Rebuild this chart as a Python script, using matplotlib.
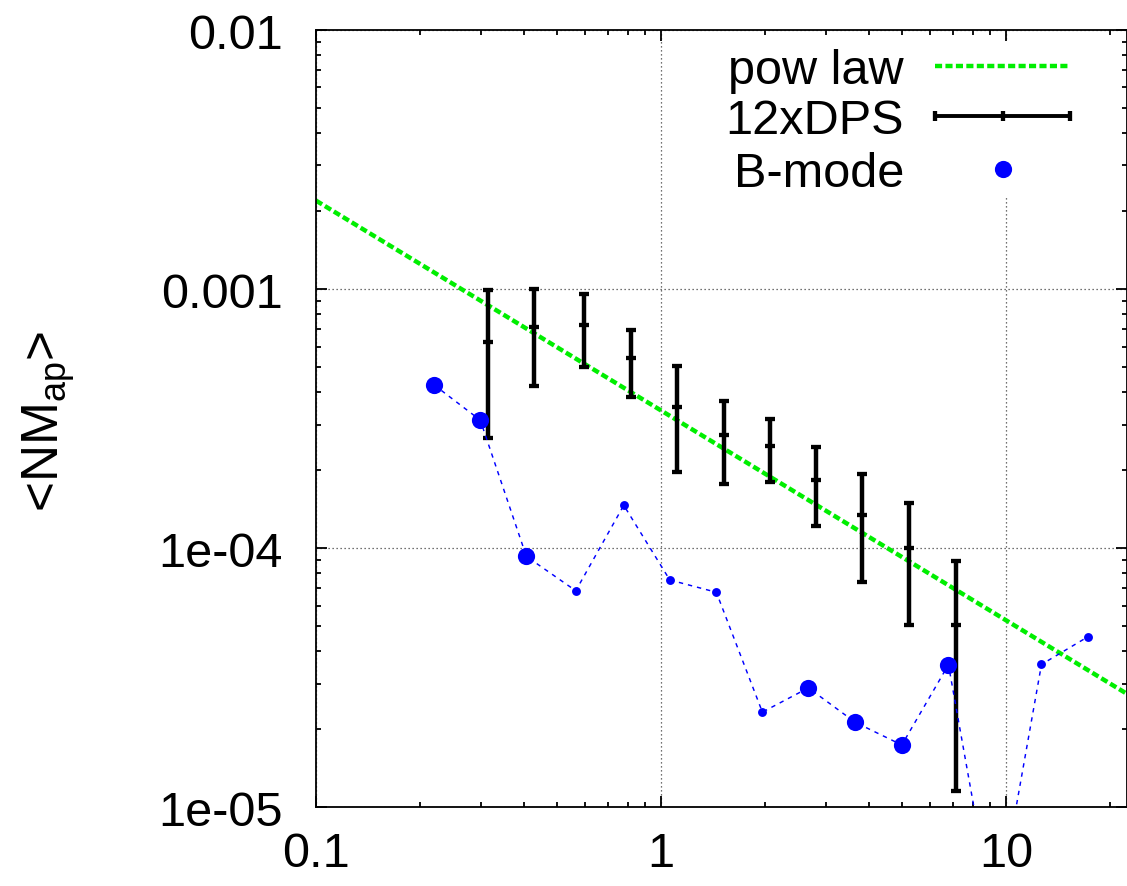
import numpy as np
import matplotlib
matplotlib.use("Agg")
import matplotlib.pyplot as plt
from matplotlib.lines import Line2D
from matplotlib.patches import Rectangle
from matplotlib.ticker import LogLocator, NullFormatter

plt.rcParams['font.family'] = ['Liberation Sans', 'DejaVu Sans']
plt.rcParams['mathtext.fontset'] = 'custom'
plt.rcParams['mathtext.rm'] = 'Liberation Sans'
plt.rcParams['mathtext.it'] = 'Liberation Sans'

# power-law fit: y = amp * x**index
pow_amp = 3.40e-4
pow_index = -0.81

# 12xDPS points with asymmetric errors
dps_x = [0.316, 0.427, 0.596, 0.818, 1.115, 1.523, 2.07, 2.81, 3.83, 5.23, 7.14]
dps_mid = [6.26e-4, 7.13e-4, 7.30e-4, 5.40e-4, 3.52e-4, 2.74e-4, 2.47e-4, 1.84e-4, 1.34e-4, 1.00e-4, 5.07e-5]
dps_lo = [2.66e-4, 4.24e-4, 5.02e-4, 3.82e-4, 1.97e-4, 1.77e-4, 1.80e-4, 1.22e-4, 7.38e-5, 5.07e-5, 1.16e-5]
dps_hi = [9.92e-4, 1.00e-3, 9.57e-4, 6.97e-4, 5.06e-4, 3.71e-4, 3.15e-4, 2.45e-4, 1.94e-4, 1.50e-4, 8.95e-5]

# B-mode (negative values drawn as |value| with small dots)
bmode_x = [0.2198, 0.2993, 0.4070, 0.5660, 0.7797, 1.060, 1.446, 1.966, 2.673, 3.650, 4.985, 6.805, 9.29, 12.66, 17.25]
bmode = [4.27e-4, 3.12e-4, 9.30e-5, -6.85e-5, -1.464e-4, -7.54e-5, -6.76e-5, -2.33e-5,
         2.89e-5, 2.13e-5, 1.74e-5, 3.55e-5, 3.5e-6, -3.56e-5, -4.55e-5]

x_ticks = [0.1, 1, 10]
x_ticklabels = ["0.1", "1", "10"]
y_ticks = [1e-5, 1e-4, 1e-3, 1e-2]
y_ticklabels = ["1e-05", "1e-04", "0.001", "0.01"]

FS = 35
green = '#00ee00'

fig = plt.figure(figsize=(11.27, 8.87), dpi=100)
ax = fig.add_axes([316/1127, 1 - 808.3/887, 811/1127, 777.3/887])
ax.set_xscale('log')
ax.set_yscale('log')
xlim = (0.1, 22.4)
ax.set_xlim(*xlim)
ax.set_ylim(1e-5, 1e-2)

# pow law
xl = np.array(xlim)
ax.plot(xl, pow_amp * xl ** pow_index, color=green, lw=3.2, dashes=(1.6, 0.75),
        solid_capstyle='butt', dash_capstyle='butt', zorder=2)

# 12xDPS
mid = np.array(dps_mid)
yerr = [mid - np.array(dps_lo), np.array(dps_hi) - mid]
ax.errorbar(dps_x, mid, yerr=yerr, fmt='_', color='black', ms=7.8, mew=3.1,
            elinewidth=3.2, capsize=3.9, capthick=3.1, zorder=3)

# B-mode
bm = np.array(bmode)
bx = np.array(bmode_x)
ax.plot(bx, np.abs(bm), color='blue', lw=1.05, dashes=(3, 3.4), zorder=4)
pos = bm > 0
ax.plot(bx[pos], bm[pos], 'o', color='blue', ms=12.4, mec='none', zorder=5)
ax.plot(bx[~pos], -bm[~pos], 'o', color='blue', ms=6.4, mec='none', zorder=5)

# axes styling
ax.set_axisbelow(True)
ax.grid(True, which='major', color='#444444', lw=0.9, linestyle=(0, (1, 2.2)))
ax.set_xticks(x_ticks)
ax.set_xticklabels(x_ticklabels)
ax.set_yticks(y_ticks)
ax.set_yticklabels(y_ticklabels)
ax.xaxis.set_minor_locator(LogLocator(base=10, subs=np.arange(2, 10)))
ax.yaxis.set_minor_locator(LogLocator(base=10, subs=np.arange(2, 10)))
ax.xaxis.set_minor_formatter(NullFormatter())
ax.yaxis.set_minor_formatter(NullFormatter())
ax.tick_params(which='both', direction='in', top=True, right=True, width=1.3, labelsize=FS)
ax.tick_params(which='major', length=8)
ax.tick_params(which='minor', length=3.5)
ax.tick_params(axis='x', which='major', pad=17)
ax.tick_params(axis='y', which='major', pad=24)
for s in ax.spines.values():
    s.set_linewidth(1.3)

fig.text(49/1127, 1 - 421/887, r'<NM$_{\rm ap}$>', rotation=90, ha='center', va='center', fontsize=37)

# opaque key
ax.add_patch(Rectangle((0.47, 0.7864), 0.49, 0.199, transform=ax.transAxes,
                       facecolor='white', edgecolor='none', zorder=1))
tx = (904 - 316) / 811
sx0, sx1 = (935 - 316) / 811, (1070 - 316) / 811
sxm = (sx0 + sx1) / 2
rows = [1 - (67 - 31) / 777.3, 1 - (117 - 31) / 777.3, 1 - (170 - 31) / 777.3]
base_off = 17 / 777.3
for lab, ry in zip(["pow law", "12xDPS", "B-mode"], rows):
    ax.text(tx, ry - base_off, lab, transform=ax.transAxes, ha='right', va='baseline',
            fontsize=FS, zorder=6)
ax.add_line(Line2D([sx0, sx1], [rows[0]] * 2, transform=ax.transAxes, color=green, lw=3.2,
                   dashes=(1.6, 0.75), dash_capstyle='butt', zorder=6))
ax.add_line(Line2D([sx0, sx1], [rows[1]] * 2, transform=ax.transAxes, color='black', lw=2.8, zorder=6))
ax.add_line(Line2D([sx0, sxm, sx1], [rows[1]] * 3, transform=ax.transAxes, color='black', lw=0,
                   marker='|', ms=7.8, mew=3.1, zorder=6))
ax.add_line(Line2D([sxm], [rows[2]], transform=ax.transAxes, color='blue', lw=0,
                   marker='o', ms=12.4, mec='none', zorder=6))

fig.savefig('out.png', dpi=100)
